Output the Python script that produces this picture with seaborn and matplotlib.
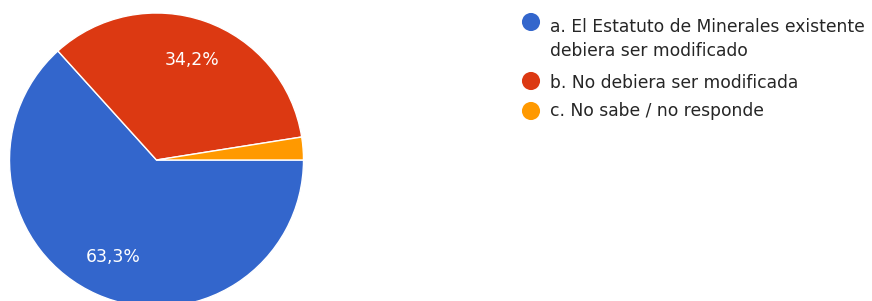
# Pie chart: opinion on modifying the Estatuto de Minerales
import matplotlib
matplotlib.use("Agg")
import matplotlib.pyplot as plt
import seaborn as sns

# Data
labels = [
    "a. El Estatuto de Minerales existente\ndebiera ser modificado",
    "b. No debiera ser modificada",
    "c. No sabe / no responde",
]
values = [63.3, 34.2, 2.5]
colors = ["#3366CC", "#DC3912", "#FF9900"]

sns.set_theme(style="white")
plt.rcParams["font.family"] = ["DejaVu Sans"]

W, H = 872, 301
fig = plt.figure(figsize=(W / 100, H / 100), dpi=100)

# Pie axes placed in pixel units (center ~ (156.5, 160), radius ~147)
r = 147
cx, cy = 156.5, 160
ax = fig.add_axes([(cx - r) / W, (H - cy - r) / H, 2 * r / W, 2 * r / H])


def pct_fmt(p):
    return ("%.1f%%" % p).replace(".", ",") if p > 5 else ""


wedges, texts, autotexts = ax.pie(
    values,
    colors=colors,
    startangle=0,
    counterclock=False,
    autopct=pct_fmt,
    pctdistance=0.72,
    wedgeprops=dict(edgecolor="white", linewidth=1),
    textprops=dict(color="white", fontsize=12.4),
)
ax.set_xlim(-1, 1)
ax.set_ylim(-1, 1)
ax.set_aspect("equal")

# Legend drawn by hand so the marker sits on the first line of each label
lax = fig.add_axes([0, 0, 1, 1], facecolor="none")
lax.set_xlim(0, W)
lax.set_ylim(H, 0)
lax.axis("off")
marker_y = [22, 81, 111]
# baseline of the last line of each label
baseline_y = [56.5, 87.5, 116.5]
for lab, col, my, by in zip(labels, colors, marker_y, baseline_y):
    lax.scatter([531], [my], s=170, color=col, edgecolor="none")
    lax.text(550, by, lab, fontsize=12.3, color="#262626",
             va="baseline", ha="left", linespacing=1.48)

fig.savefig("out.png", dpi=100)
